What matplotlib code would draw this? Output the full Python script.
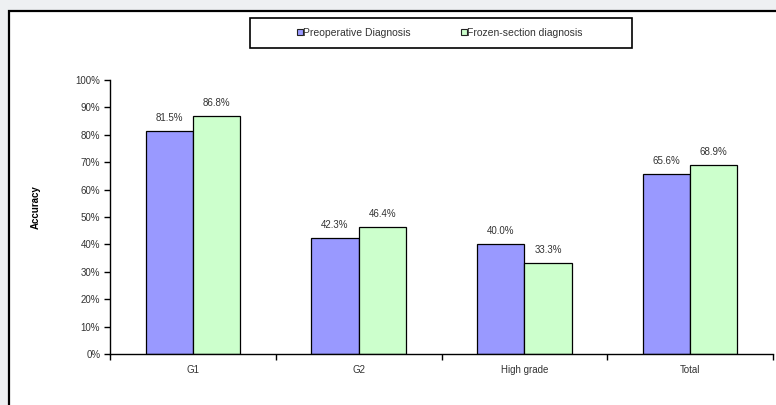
import numpy as np
import matplotlib.pyplot as plt
from matplotlib.patches import Rectangle
from matplotlib.lines import Line2D
from matplotlib.ticker import PercentFormatter

plt.rcParams['font.family'] = ['Liberation Sans', 'DejaVu Sans']

# accuracy by grade (percent)
categories = ["G1", "G2", "High grade", "Total"]
preop = [81.5, 42.3, 40.0, 65.6]
frozen = [86.8, 46.4, 33.3, 68.9]
series_names = ["Preoperative Diagnosis", "Frozen-section diagnosis"]

purple = "#9999ff"
green = "#ccffcc"
text_col = "#333333"

W, H = 776, 405
fig = plt.figure(figsize=(W / 100, H / 100), dpi=100)
fig.patch.set_facecolor("#eef0f2")

# white chart area with black frame (runs off the right and bottom edges)
fig.patches.append(Rectangle((8.5 / W, -0.05), 1.1, (H - 10.5) / H + 0.05,
                             transform=fig.transFigure, facecolor="white",
                             edgecolor="black", linewidth=1.6, zorder=-1))

ax = fig.add_axes([110 / W, (H - 354) / H, 663 / W, 274 / H])
ax.set_facecolor("none")
ax.set_zorder(1)

x = np.arange(len(categories))
bw = 0.285
b1 = ax.bar(x - bw / 2, preop, bw, color=purple, edgecolor="black", linewidth=0.9)
b2 = ax.bar(x + bw / 2, frozen, bw, color=green, edgecolor="black", linewidth=0.9)

for bars, vals in ((b1, preop), (b2, frozen)):
    for b, v in zip(bars, vals):
        ax.annotate(f"{v:.1f}%", (b.get_x() + b.get_width() / 2, v),
                    xytext=(0, 8), textcoords="offset pixels",
                    ha="center", va="bottom", fontsize=7, color=text_col)

ax.set_xlim(-0.5, len(categories) - 0.5)
ax.set_ylim(0, 100)
ax.set_yticks(np.arange(0, 101, 10))
ax.yaxis.set_major_formatter(PercentFormatter(decimals=0))
ax.set_xticks(np.arange(-0.5, len(categories), 1.0))
ax.set_xticklabels([])
ax.set_xticks(x, minor=True)
ax.set_xticklabels(categories, minor=True)
ax.tick_params(axis="x", which="minor", length=0, pad=8, labelsize=7, labelcolor=text_col)
ax.tick_params(axis="x", which="major", length=4, width=1)
ax.tick_params(axis="y", length=4, width=1, labelsize=7, labelcolor=text_col, pad=3)

for s in ("top", "right"):
    ax.spines[s].set_visible(False)
for s in ("left", "bottom"):
    ax.spines[s].set_linewidth(1)

fig.text(36 / W, 1 - 207 / H, "Accuracy", rotation=90, ha="center", va="center",
         fontsize=7, fontweight="bold", color="black")

# legend box
fig.patches.append(Rectangle((250 / W, 1 - 48 / H), 382 / W, 30 / H,
                             transform=fig.transFigure, facecolor="white",
                             edgecolor="black", linewidth=1.2, zorder=2))
handles = [Line2D([], [], marker="s", linestyle="none", markersize=4,
                  markerfacecolor=c, markeredgecolor="#222222", markeredgewidth=0.8)
           for c in (purple, green)]
leg = fig.legend(handles, series_names, loc="center", ncol=2,
                 bbox_to_anchor=(440 / W, 1 - 33 / H), frameon=False,
                 fontsize=7.5, handlelength=0.5, handletextpad=0.1,
                 columnspacing=4.8)
for t in leg.get_texts():
    t.set_color(text_col)
leg.set_zorder(3)

fig.savefig("out.png", dpi=100, facecolor=fig.get_facecolor())
